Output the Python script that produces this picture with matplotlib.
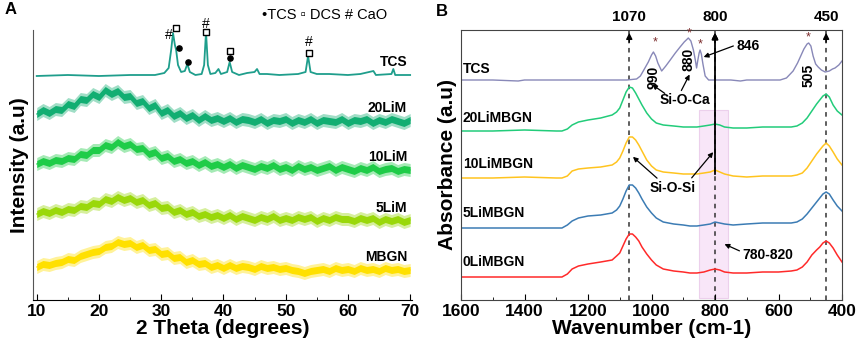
import numpy as np
import matplotlib
matplotlib.use("Agg")
import matplotlib.pyplot as plt
from matplotlib.ticker import MultipleLocator

plt.rcParams['font.family'] = ['Liberation Sans', 'DejaVu Sans']

# --- Panel A: XRD data (2 theta, intensity a.u.) ---
theta = np.arange(10, 71)

tcs_theta = [10, 15, 20, 25, 29, 30.5, 31.2, 31.6, 31.9, 32.2, 32.4, 32.7, 33.2, 33.8, 34.2, 34.6,
             35.5, 36.5, 36.9, 37.2, 37.5, 37.9, 38.7, 39.2, 39.6, 40.6, 41.0, 41.4, 42.5, 43.8,
             45.0, 45.4, 45.8, 47, 49, 52, 53.2, 53.6, 54.0, 55, 57, 60, 62, 64.1, 64.5, 67.0,
             67.3, 67.6, 70]
tcs_xrd = [224, 225, 224, 225, 225, 227, 232, 250, 267, 255, 250, 235, 228, 229, 236, 228,
           225, 226, 235, 268, 235, 226, 227, 231, 226, 228, 238, 228, 225, 227,
           228, 231, 226, 226, 225, 226, 228, 244, 228, 226, 226, 225, 226, 229, 225, 226,
           231, 225, 225]

li20_xrd = [186, 190, 187, 191, 190, 196, 194, 201, 200, 206,
            203, 210, 206, 209, 203, 204, 197, 199, 192, 195,
            187, 190, 184, 187, 182, 185, 180, 184, 180, 182,
            179, 182, 178, 181, 180, 178, 181, 177, 180, 179,
            181, 177, 180, 178, 181, 177, 180, 179, 178, 181,
            177, 180, 179, 181, 177, 180, 178, 181, 179, 177,
            180]
li10_xrd = [136, 139, 137, 140, 139, 142, 141, 146, 145, 150,
            150, 155, 153, 158, 154, 156, 151, 152, 146, 148,
            142, 144, 139, 141, 137, 139, 135, 138, 134, 136,
            133, 136, 132, 135, 133, 131, 134, 132, 135, 131,
            133, 130, 134, 131, 133, 130, 132, 134, 130, 133,
            131, 129, 132, 130, 133, 129, 131, 132, 129, 131,
            130]
li5_xrd = [86, 89, 87, 90, 88, 91, 90, 94, 93, 97,
           96, 101, 99, 103, 100, 102, 98, 100, 95, 97,
           92, 93, 88, 90, 86, 88, 84, 86, 83, 85,
           82, 85, 81, 84, 82, 80, 83, 81, 84, 80,
           82, 80, 83, 81, 83, 79, 82, 80, 83, 81,
           81, 79, 82, 80, 82, 78, 81, 79, 81, 78,
           80]
mbgn_xrd = [33, 36, 35, 37, 38, 41, 40, 44, 46, 48,
            49, 53, 54, 58, 56, 57, 53, 55, 50, 51,
            46, 47, 42, 43, 38, 40, 36, 37, 33, 35,
            32, 35, 32, 34, 33, 31, 34, 32, 33, 31,
            32, 30, 29, 27, 29, 30, 31, 29, 32, 30,
            31, 29, 32, 30, 31, 29, 32, 30, 31, 29,
            30]
noise_core = 3.5   # half thickness of the dense part of the noisy band
noise_outer = 6.5  # half thickness of the faint outer spikes

xrd_names = ['TCS', '20LiM', '10LiM', '5LiM', 'MBGN']
xrd_colors = ['#1f9e8c', '#12ae72', '#1fcc48', '#9ad80a', '#ffe000']
xrd_label_y = [238, 192, 143, 92, 43]

# peak markers: (2theta, height)
cao_marks = [(31.3, 265), (37.2, 276), (53.7, 258)]
dcs_marks = [(32.4, 272), (37.2, 268), (41.0, 249), (53.7, 247)]
tcs_marks = [(32.8, 252), (34.3, 238), (41.0, 242)]

# --- Panel B: FTIR data (wavenumber, absorbance a.u.) ---
ftir_tcs_w = [1600, 1500, 1420, 1400, 1300, 1200, 1100, 1078, 1047, 1035, 1026, 1010, 1000, 994,
              987, 980, 968, 955, 941, 925, 910, 897, 884, 876, 868, 862, 858, 854, 850, 847,
              843, 838, 831, 820, 800, 750, 720, 700, 650, 595, 575, 554, 540, 530, 520, 510,
              505, 498, 491, 483, 475, 465, 453, 440, 430, 422, 410, 400]
ftir_tcs = [220, 220, 219, 220, 220, 220, 220, 220, 221, 224, 229, 238, 245, 248,
            244, 237, 229, 234, 240, 247, 253, 258, 262, 259, 250, 240, 232, 240, 247, 250,
            246, 236, 224, 220, 220, 220, 219, 220, 220, 220, 222, 229, 237, 244, 251, 256,
            257, 254, 244, 236, 233, 230, 228, 229, 231, 232, 235, 239]

ftir_w = [1600, 1500, 1400, 1300, 1282, 1265, 1250, 1230, 1200, 1160, 1124, 1110, 1100, 1090,
          1080, 1070, 1060, 1050, 1040, 1030, 1015, 1000, 985, 963, 930, 900, 879, 857, 835, 815,
          800, 785, 770, 743, 700, 650, 600, 560, 542, 525, 510, 495, 480, 470, 460, 450, 440,
          428, 415, 400]
ftir_20li = [169, 169, 170, 169, 169, 171, 175, 178, 180, 182, 185, 188, 192, 200,
             208, 213, 212, 207, 201, 195, 187, 181, 177, 175, 174, 173, 173, 173, 174, 175,
             176, 175, 173, 172, 172, 173, 173, 173, 174, 177, 182, 189, 196, 200, 204, 206, 203,
             195, 189, 185]
ftir_10li = [122, 122, 123, 122, 122, 124, 129, 131, 132, 133, 135, 138, 142, 149,
             157, 163, 163, 160, 155, 149, 140, 134, 130, 128, 127, 126, 126, 126, 127, 128,
             130, 128, 126, 124, 123, 124, 124, 124, 125, 127, 132, 139, 146, 150, 154, 157, 154,
             148, 141, 135]
ftir_5li = [72, 72, 72, 72, 72, 75, 79, 82, 84, 85, 87, 90, 94, 101,
            109, 115, 115, 112, 107, 101, 93, 87, 82, 78, 76, 75, 74, 74, 75, 76,
            78, 77, 76, 75, 76, 77, 77, 77, 78, 81, 86, 92, 98, 102, 106, 108, 106,
            100, 94, 89]
ftir_0li = [23, 23, 23, 23, 23, 26, 31, 34, 36, 38, 40, 44, 47, 54,
            61, 66, 66, 63, 59, 53, 46, 40, 35, 31, 29, 28, 27, 27, 28, 30,
            31, 30, 28, 27, 27, 28, 28, 29, 30, 33, 38, 45, 50, 53, 57, 59, 57,
            52, 45, 38]

ftir_names = ['20LiMBGN', '10LiMBGN', '5LiMBGN', '0LiMBGN']
ftir_colors = ['#22cc7a', '#ffc41f', '#3c7cb4', '#ff2a2a']
ftir_label_y = [182, 136, 87, 38]
band_lines = [1070, 800, 450]
star_marks = [(990, 258), (880, 267), (846, 256), (505, 263)]

fig = plt.figure(figsize=(8.58, 3.5), dpi=100)

# ---------------- Panel A ----------------
axA = fig.add_axes([33 / 858, 50 / 350, 379 / 858, 270 / 350])
axA.plot(tcs_theta, tcs_xrd, color=xrd_colors[0], lw=1.3)
for vals, col in zip([li20_xrd, li10_xrd, li5_xrd, mbgn_xrd], xrd_colors[1:]):
    vals = np.array(vals)
    axA.fill_between(theta, vals - noise_outer, vals + noise_outer, color=col, lw=0, alpha=0.4)
    axA.fill_between(theta, vals - noise_core, vals + noise_core, color=col, lw=0)
    axA.plot(theta, vals, color=col, lw=0.8)
for name, y in zip(xrd_names, xrd_label_y):
    axA.text(69.5, y, name, ha='right', va='center', fontsize=10, fontweight='bold')

for x, y in cao_marks:
    axA.text(x, y, '#', ha='center', va='center', fontsize=10, clip_on=False)
axA.scatter([m[0] for m in dcs_marks], [m[1] for m in dcs_marks], marker='s', s=14,
            facecolor='white', edgecolor='black', linewidth=1, zorder=5, clip_on=False)
axA.scatter([m[0] for m in tcs_marks], [m[1] for m in tcs_marks], marker='o', s=14,
            color='black', zorder=5, clip_on=False)
fig.text(262 / 858, 1 - 15 / 350, '\u2022TCS \u25ab DCS # CaO', fontsize=10.5,
         va='center', ha='left')

axA.set_xlim(9.4, 70.3)
axA.set_ylim(0, 270)
axA.spines['top'].set_visible(False)
axA.spines['right'].set_visible(False)
axA.spines['left'].set_color('#555555')
axA.set_yticks([])
axA.xaxis.set_major_locator(MultipleLocator(10))
axA.xaxis.set_minor_locator(MultipleLocator(5))
axA.tick_params(axis='x', which='major', direction='in', length=4, labelsize=12.5, pad=3)
axA.tick_params(axis='x', which='minor', direction='in', length=2)
for lab in axA.get_xticklabels():
    lab.set_fontweight('bold')
axA.set_xlabel('2 Theta (degrees)', fontsize=15, fontweight='bold', labelpad=0)
axA.set_ylabel('Intensity (a.u)', fontsize=15, fontweight='bold', labelpad=3)
fig.text(5 / 858, 1 - 10 / 350, 'A', fontsize=12, fontweight='bold', va='center')

# ---------------- Panel B ----------------
axB = fig.add_axes([461 / 858, 50 / 350, 381 / 858, 270 / 350])
axB.axvspan(760, 850, ymin=2 / 270, ymax=190 / 270, facecolor='#f8e6f8',
            edgecolor='#ecd0ec', lw=0.8, zorder=0)
axB.plot(ftir_tcs_w, ftir_tcs, color='#8888b8', lw=1)
for vals, col in zip([ftir_20li, ftir_10li, ftir_5li, ftir_0li], ftir_colors):
    axB.plot(ftir_w, vals, color=col, lw=1.1)

for w in band_lines:
    axB.axvline(w, color='#333333', ls=(0, (3, 3)), lw=1.1, zorder=1)
    axB.annotate('', xy=(w, 270), xytext=(w, 255),
                 arrowprops=dict(arrowstyle='-|>', color='black', lw=1, mutation_scale=9))
    axB.text(w, 283, str(w), ha='center', va='center', fontsize=11, fontweight='bold',
             clip_on=False)
axB.annotate('', xy=(800, 270), xytext=(800, 123),
             arrowprops=dict(arrowstyle='-|>', color='black', lw=1.3, mutation_scale=9))

axB.text(1594, 231, 'TCS', ha='left', va='center', fontsize=10, fontweight='bold')
for name, y in zip(ftir_names, ftir_label_y):
    axB.text(1594, y, name, ha='left', va='center', fontsize=10, fontweight='bold')

for x, y in star_marks:
    axB.text(x, y, '*', ha='center', va='center', fontsize=9, color='#7a2a2a')
axB.text(995, 223, '990', rotation=90, ha='center', va='center', fontsize=10, fontweight='bold')
axB.text(884, 241, '880', rotation=90, ha='center', va='center', fontsize=10, fontweight='bold')
axB.text(505, 225, '505', rotation=90, ha='center', va='center', fontsize=10, fontweight='bold')

arrow_kw = dict(arrowstyle='-|>', color='black', lw=0.9, mutation_scale=7)
axB.text(895, 200, 'Si-O-Ca', ha='center', va='center', fontsize=10, fontweight='bold')
axB.annotate('', xy=(1005, 217), xytext=(951, 205), arrowprops=arrow_kw)
axB.annotate('', xy=(876, 228), xytext=(910, 207), arrowprops=arrow_kw)
axB.text(696, 254, '846', ha='center', va='center', fontsize=10, fontweight='bold')
axB.annotate('', xy=(844, 242), xytext=(734, 255), arrowprops=arrow_kw)
axB.text(932, 112, 'Si-O-Si', ha='center', va='center', fontsize=10, fontweight='bold')
axB.annotate('', xy=(1065, 145), xytext=(976, 120), arrowprops=arrow_kw)
axB.annotate('', xy=(800, 150), xytext=(879, 120), arrowprops=arrow_kw)
axB.text(633, 45, '780-820', ha='center', va='center', fontsize=10, fontweight='bold')
axB.annotate('', xy=(778, 57), xytext=(715, 48), arrowprops=arrow_kw)

axB.set_xlim(1600, 400)
axB.set_ylim(0, 270)
axB.set_yticks([])
axB.xaxis.set_major_locator(MultipleLocator(200))
axB.xaxis.set_minor_locator(MultipleLocator(100))
axB.tick_params(axis='x', which='major', direction='in', length=4, labelsize=12.5, pad=3)
axB.tick_params(axis='x', which='minor', direction='in', length=2)
for lab in axB.get_xticklabels():
    lab.set_fontweight('bold')
for sp in axB.spines.values():
    sp.set_color('#444444')
axB.set_xlabel('Wavenumber (cm-1)', fontsize=15, fontweight='bold', labelpad=0)
axB.set_ylabel('Absorbance (a.u)', fontsize=15, fontweight='bold', labelpad=3)
fig.text(436 / 858, 1 - 12 / 350, 'B', fontsize=12, fontweight='bold', va='center')

fig.savefig('out.png', dpi=100)
